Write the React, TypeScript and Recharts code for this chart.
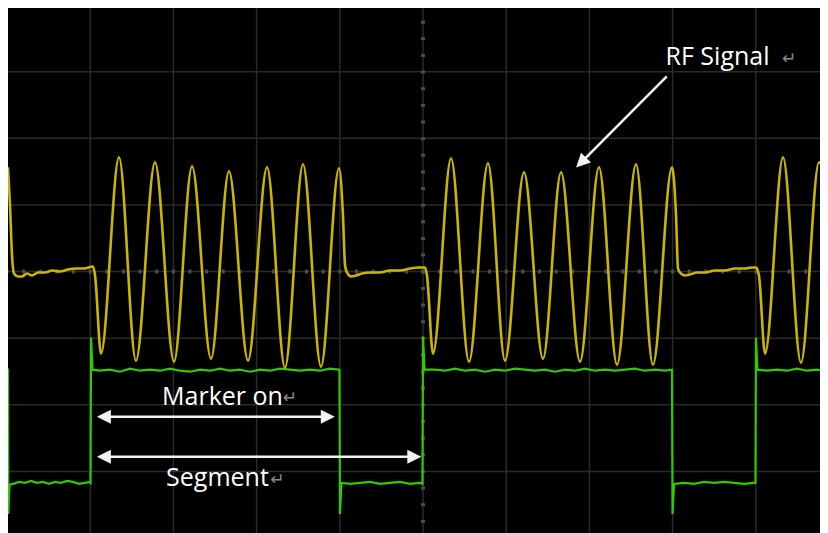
import React from 'react';
import { LineChart, Line, XAxis, YAxis, CartesianGrid, ReferenceLine, ReferenceDot } from 'recharts';

// screen is 10 horizontal divisions x 8 vertical divisions
const xTicks = [0, 1, 2, 3, 4, 5, 6, 7, 8, 9, 10];
const yTicks = [-4, -3, -2, -1, 0, 1, 2, 3, 4];

// RF signal (yellow), [division, volts/div]
const rfLead: [number, number][] = [
    [0.012, 1.564], [0.036, 0.992], [0.06, 0.241], [0.084, -0.03], [0.132, -0.075], [0.18, -0.075],
    [0.24, -0.03], [0.3, -0.06], [0.373, -0.015], [0.457, -0.015], [0.541, 0.015], [0.637, 0.0],
    [0.733, 0.03], [0.829, 0.045], [0.925, 0.045], [1.034, 0.075], [1.058, -0.06],
];
const rfBurst1: [number, number][] = [
    [1.13, -1.233], [1.346, 1.714], [1.55, -1.338], [1.779, 1.639], [2.007, -1.353], [2.224, 1.579],
    [2.452, -1.308], [2.668, 1.504], [2.897, -1.338], [3.125, 1.564], [3.341, -1.444], [3.558, 1.609],
    [3.774, -1.429], [3.99, 1.549],
];
const rfGap1: [number, number][] = [
    [4.038, 0.842], [4.063, 0.09], [4.087, -0.015], [4.135, -0.075], [4.195, -0.06], [4.267, -0.03],
    [4.363, -0.015], [4.483, -0.015], [4.603, 0.015], [4.724, 0.015], [4.844, 0.045], [4.94, 0.06],
    [5.024, 0.06], [5.048, -0.06],
];
const rfBurst2: [number, number][] = [
    [5.12, -1.233], [5.337, 1.699], [5.553, -1.353], [5.781, 1.624], [5.986, -1.338], [6.214, 1.489],
    [6.442, -1.308], [6.659, 1.489], [6.887, -1.353], [7.115, 1.564], [7.332, -1.398], [7.56, 1.609],
    [7.764, -1.398], [7.993, 1.564],
];
const rfGap2: [number, number][] = [
    [8.041, 0.842], [8.065, 0.045], [8.101, -0.03], [8.149, -0.06], [8.209, -0.045], [8.293, -0.015],
    [8.389, -0.015], [8.51, 0.015], [8.63, 0.015], [8.75, 0.045], [8.87, 0.045], [8.954, 0.06],
    [9.002, 0.06], [9.038, -0.06],
];
const rfBurst3: [number, number][] = [
    [9.111, -1.233], [9.327, 1.714], [9.543, -1.368], [9.76, 1.639], [9.988, -1.338],
];

// marker (green) trace
const markerLow1: [number, number][] = [
    [0, -1.474], [0.012, -1.474], [0.016, -3.639], [0.03, -3.203],
    [0.072, -3.188], [0.144, -3.158], [0.216, -3.173], [0.288, -3.143], [0.361, -3.173], [0.433, -3.158],
    [0.505, -3.188], [0.577, -3.158], [0.649, -3.173], [0.721, -3.143], [0.793, -3.158], [0.865, -3.188],
    [0.938, -3.173], [0.992, -3.158], [1.004, -3.173],
];
const markerHigh1: [number, number][] = [
    [1.01, -0.992], [1.028, -1.474],
    [1.118, -1.489], [1.238, -1.474], [1.358, -1.504], [1.478, -1.459], [1.599, -1.489], [1.719, -1.474],
    [1.839, -1.489], [1.959, -1.459], [2.079, -1.489], [2.2, -1.504], [2.32, -1.474], [2.44, -1.489],
    [2.56, -1.459], [2.68, -1.489], [2.8, -1.474], [2.921, -1.504], [3.041, -1.474], [3.161, -1.489],
    [3.281, -1.459], [3.401, -1.474], [3.522, -1.489], [3.642, -1.474], [3.762, -1.489], [3.882, -1.459],
    [3.996, -1.474],
];
const markerLow2: [number, number][] = [
    [4.002, -3.639], [4.02, -3.173],
    [4.123, -3.188], [4.243, -3.173], [4.363, -3.158], [4.483, -3.188], [4.603, -3.173], [4.724, -3.158],
    [4.844, -3.188], [4.964, -3.173], [4.994, -3.188],
];
const markerHigh2: [number, number][] = [
    [5.0, -0.977], [5.018, -1.474],
    [5.144, -1.474], [5.264, -1.489], [5.385, -1.459], [5.505, -1.489], [5.625, -1.474], [5.745, -1.504],
    [5.865, -1.474], [5.986, -1.489], [6.106, -1.459], [6.226, -1.474], [6.346, -1.489], [6.466, -1.474],
    [6.587, -1.504], [6.707, -1.474], [6.827, -1.489], [6.947, -1.459], [7.067, -1.489], [7.188, -1.474],
    [7.308, -1.489], [7.428, -1.474], [7.548, -1.459], [7.668, -1.489], [7.788, -1.474], [7.909, -1.489],
    [7.993, -1.474],
];
const markerLow3: [number, number][] = [
    [7.999, -3.639], [8.017, -3.188],
    [8.137, -3.173], [8.257, -3.188], [8.377, -3.158], [8.498, -3.173], [8.618, -3.158], [8.738, -3.173],
    [8.858, -3.188], [8.978, -3.173], [8.996, -3.173],
];
const markerHigh3: [number, number][] = [
    [9.002, -0.992], [9.02, -1.474],
    [9.135, -1.489], [9.255, -1.474], [9.375, -1.489], [9.495, -1.459], [9.615, -1.489], [9.736, -1.474],
    [9.856, -1.489], [10.0, -1.474],
];

const toRows = (parts: [number, number][][]) => parts.flat().map(([t, v]) => ({ t, v }));
const rfData = toRows([rfLead, rfBurst1, rfGap1, rfBurst2, rfGap2, rfBurst3]);
const markerData = toRows([markerLow1, markerHigh1, markerLow2, markerHigh2, markerLow3, markerHigh3]);

const FONT = '"Open Sans", "DejaVu Sans", sans-serif';
const ARROW = '#f2f2f2';

function head(x: number, y: number, fromX: number, fromY: number, len: number, half: number) {
    const dx = x - fromX;
    const dy = y - fromY;
    const d = Math.hypot(dx, dy) || 1;
    const ux = dx / d, uy = dy / d;
    const bx = x - ux * len, by = y - uy * len;
    return `${x},${y} ${bx - uy * half},${by + ux * half} ${bx + uy * half},${by - ux * half}`;
}

// arrow line drawn from the reference line's end points
const arrowShape = (both: boolean) => (p: any) => {
    const { x1, y1, x2, y2 } = p;
    const dx = x2 - x1, dy = y2 - y1;
    const d = Math.hypot(dx, dy) || 1;
    const len = 14;
    const sx = both ? x1 + (dx / d) * len * 0.8 : x1;
    const sy = both ? y1 + (dy / d) * len * 0.8 : y1;
    return (
        <g>
            <line x1={sx} y1={sy} x2={x2 - (dx / d) * len * 0.8} y2={y2 - (dy / d) * len * 0.8} stroke={ARROW} strokeWidth={2.5} />
            <polygon points={head(x2, y2, x1, y1, len, 7)} fill={ARROW} />
            {both && <polygon points={head(x1, y1, x2, y2, len, 7)} fill={ARROW} />}
        </g>
    );
};

const label = (text: string, size: number, color: string) => (p: any) => (
    <text x={p.cx} y={p.cy} fill={color} fontSize={size} fontFamily={FONT} textAnchor="middle">
        {text}
    </text>
);

export default function App() {
    return (
        <div style={{ position: 'relative', width: 820, height: 525, overflow: 'hidden', background: '#000' }}>
            <div style={{ position: 'absolute', left: -1, top: -3 }}>
                <LineChart width={832} height={533} margin={{ top: 0, right: 0, bottom: 0, left: 0 }}>
                    <CartesianGrid stroke="#2a2a2a" strokeWidth={1.5} />
                    <XAxis dataKey="t" type="number" domain={[0, 10]} ticks={xTicks} hide allowDataOverflow />
                    <YAxis type="number" domain={[-4, 4]} ticks={yTicks} hide allowDataOverflow />
                    <ReferenceLine y={0} stroke="#4d4d4d" strokeWidth={4} strokeDasharray="1.5 13.64 1.5 0" />
                    <ReferenceLine x={5} stroke="#4d4d4d" strokeWidth={4} strokeDasharray="1.5 13.64 1.5 0" />
                    <Line data={markerData} dataKey="v" type="linear" stroke="#33c900" strokeWidth={2.2}
                        dot={false} isAnimationActive={false} />
                    <Line data={rfData} dataKey="v" type="monotone" stroke="#cab600" strokeWidth={2.6}
                        dot={false} isAnimationActive={false} />
                    <ReferenceLine segment={[{ x: 7.93, y: 2.93 }, { x: 6.84, y: 1.56 }]} shape={arrowShape(false)} />
                    <ReferenceLine segment={[{ x: 1.08, y: -2.18 }, { x: 3.94, y: -2.18 }]} shape={arrowShape(true)} />
                    <ReferenceLine segment={[{ x: 1.08, y: -2.78 }, { x: 4.98, y: -2.78 }]} shape={arrowShape(true)} />
                    <ReferenceDot x={8.54} y={3.1} r={0} shape={label('RF Signal', 25, '#ffffff')} />
                    <ReferenceDot x={9.4} y={3.12} r={0} shape={label('↵', 17, '#8a8a8a')} />
                    <ReferenceDot x={2.59} y={-2.0} r={0} shape={label('Marker on', 25, '#ffffff')} />
                    <ReferenceDot x={3.4} y={-1.98} r={0} shape={label('↵', 17, '#8a8a8a')} />
                    <ReferenceDot x={2.53} y={-3.218} r={0} shape={label('Segment', 25, '#ffffff')} />
                    <ReferenceDot x={3.25} y={-3.2} r={0} shape={label('↵', 17, '#8a8a8a')} />
                </LineChart>
            </div>
        </div>
    );
}
